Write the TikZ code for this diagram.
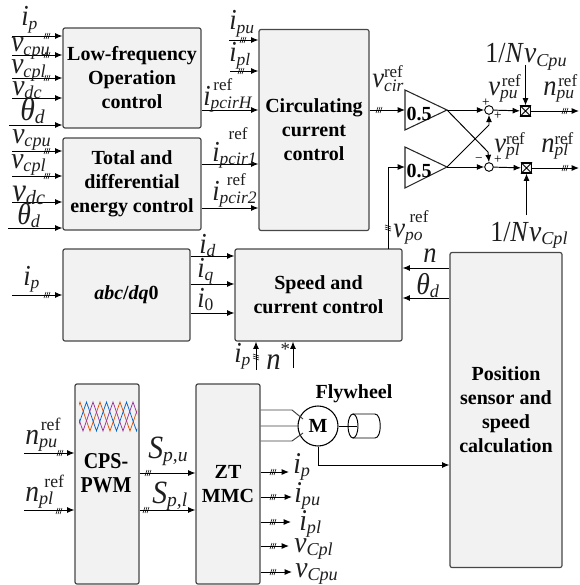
\documentclass[tikz,border=0pt]{standalone}
\usepackage{fontspec}
\setmainfont{Liberation Serif}
\usetikzlibrary{arrows.meta,calc}
\newcommand{\bs}[1]{\scalebox{1.06}[1.16]{\textit{#1}}}
\newcommand{\lb}[4][.34em]{\bs{#2}\rlap{\raisebox{-.13em}{\scalebox{.7}{\textit{#3}}}}\rlap{\raisebox{#1}{\scalebox{.68}{\upshape #4}}}\phantom{\scalebox{.7}{\textit{#3}}}}
\newcommand{\lab}[5]{\node[lbl,font=\fontsize{\fpeval{#4*0.75}}{#4}\selectfont] (#1) at (#2,#3) {#5};}
\tikzset{
 x=.75pt,y=-.75pt,
 box/.style n args={2}{draw=black!72,fill=black!5,line width=.9pt,rounded corners=1.5pt,minimum width=#1*.75pt,minimum height=#2*.75pt,inner sep=0pt,align=center,font=\fontsize{15}{18}\selectfont\bfseries},
 lbl/.style={anchor=base west,inner sep=0pt,text=black!88},
 arr/.style={line width=.72pt,-{Latex[length=5.5pt,width=4.5pt]}},
 sline/.style={line width=.72pt},
 tick3/.pic={\draw[line width=.42pt,black] (-3,3)--(-1,-3) (-1,3)--(1,-3) (1,3)--(3,-3);},
 tri/.style={draw=black!85,line width=.8pt,fill=white},
 sumc/.style={circle,draw=black,line width=.7pt,fill=white,minimum size=6.5pt,inner sep=0pt},
 mult/.style={draw=black,line width=.8pt,fill=black!5,minimum size=7.5pt,inner sep=0pt},
 motor/.style={circle,draw=black,line width=.8pt,fill=white,minimum size=30pt,inner sep=0pt,font=\fontsize{15}{18}\selectfont\bfseries},
 txt/.style={inner sep=0pt,font=\fontsize{15}{18}\selectfont\bfseries},
 pm/.style={inner sep=0pt,font=\fontsize{10}{10}\selectfont},
}
\begin{document}
\begin{tikzpicture}
\useasboundingbox (0,0) rectangle (579,585);
% boxes
\node[box={138}{100}] (lf) at (132,78) {Low-frequency\\Operation\\control};
\node[box={138}{92}] (te) at (132,184) {Total and\\differential\\energy control};
\node[box={110}{201}] (cc) at (314,130) {Circulating\\current\\control};
\node[box={127}{92}] (ab) at (126.5,295) {\textit{abc}/\textit{dq}0};
\node[box={167}{92}] (sc) at (318.5,295) {Speed and\\current control};
\node[box={112}{315}] (ps) at (506,410) {Position\\sensor and\\speed\\calculation};
\node[box={64}{200}] (cp) at (107,484) {};
\node[box={64}{200}] (zt) at (228,484) {ZT\\MMC};
\node[txt] (cptxt) at (106,461) {\scalebox{.88}[1]{\fontsize{17}{24}\selectfont CPS-}};
\node[txt] (cptxt2) at (106,485) {\scalebox{.88}[1]{\fontsize{17}{24}\selectfont PWM}};
% carrier waves
\begin{scope}
\clip (79,400) rectangle (137,433);
\foreach \cl/\ofs in {orange!70!red!90!black/0,blue!50!cyan!80!black/6.5,violet!80/13}{
 \draw[\cl,line width=.55pt] (60+\ofs,402) -- ++(10,29) -- ++(10,-29) -- ++(10,29) -- ++(10,-29) -- ++(10,29) -- ++(10,-29) -- ++(10,29) -- ++(10,-29);
}
\end{scope}
% left inputs
\foreach \n/\xx/\yy in {a1/12/36,a2/12/55,a3/12/78,a4/12/98,a5/9/125,b1/12/151,b2/12/176,b3/12/202,b4/8/228}{
 \coordinate (\n) at (\xx,\yy);
}
\foreach \n in {a1,a2,a3,a4,a5}{\draw[arr] (\n) -- (\n -| lf.west);}
\foreach \n in {b1,b2,b3,b4}{\draw[arr] (\n) -- (\n -| te.west);}
\foreach \yy in {36,55,78,151,176}{\pic at (47,\yy) {tick3};}
\lab{tipa}{21}{26}{25}{\lb{i}{p}{}}
\lab{tva}{11}{52}{26}{\lb{v}{cpu}{}}
\lab{tvb}{11}{74}{26}{\lb{v}{cpl}{}}
\lab{tvc}{12}{95}{26}{\lb{v}{dc}{}}
\lab{tth}{20}{120}{28}{\lb{θ}{d}{}}
\lab{tvd}{12}{143}{26}{\lb{v}{cpu}{}}
\lab{tve}{11}{168}{26}{\lb{v}{cpl}{}}
\lab{tvf}{12}{201}{29}{\lb{v}{dc}{}}
\lab{ttg}{17}{224}{26}{\lb{θ}{d}{}}
% circulating inputs
\coordinate (c1) at (229,40); \coordinate (c2) at (230,71);
\draw[arr] (c1) -- (c1 -| cc.west);
\draw[arr] (c2) -- (c2 -| cc.west);
\pic at (243,40) {tick3}; \pic at (241,71) {tick3};
\coordinate (l1) at (lf.east |- 0,110);
\coordinate (l2) at (te.east |- 0,164);
\coordinate (l3) at (te.east |- 0,208);
\draw[arr] (l1) -- (l1 -| cc.west);
\draw[arr] (l2) -- (l2 -| cc.west);
\draw[arr] (l3) -- (l3 -| cc.west);
\lab{tipu}{229}{30}{25}{\lb{i}{pu}{}}
\lab{tipl}{229}{62}{25}{\lb{i}{pl}{}}
\lab{tcH}{203}{105}{25}{\lb[11pt]{i}{pcirH}{\hspace{3pt}ref}}
\lab{tc1}{212}{161}{25}{\lb[16pt]{i}{pcir1}{\hspace{10pt}ref}}
\lab{tc2}{212}{200}{25}{\lb[11pt]{i}{pcir2}{\hspace{8pt}ref}}
% gains
\draw[tri] (405,90) -- (447,110) -- (405,130) -- cycle;
\draw[tri] (405,147) -- (447,167) -- (405,188) -- cycle;
\coordinate (g1) at (447,110); \coordinate (g2) at (447,167);
\coordinate (g1i) at (405,110); \coordinate (g2i) at (405,167);
\node[txt] (g1t) at (419,114) {0.5};
\node[txt] (g2t) at (419,171) {0.5};
\node[sumc] (s1) at (489,110) {};
\node[sumc] (s2) at (489,167) {};
\node[mult] (m1) at (525.5,111) {};
\node[mult] (m2) at (526.5,168) {};
\draw[line width=.6pt] (m1.north west)--(m1.south east) (m1.north east)--(m1.south west);
\draw[line width=.6pt] (m2.north west)--(m2.south east) (m2.north east)--(m2.south west);
\draw[arr] (cc.east |- g1i) -- (g1i);
\pic at (379,110) {tick3};
\draw[arr] (g1) -- (s1);
\draw[arr] (g2) -- (s2);
\draw[arr] (g1) -- (488,152) -- (s2.north);
\draw[arr] (g2) -- (489,125) -- (s1.south);
\draw[arr] (s1) -- (m1);
\draw[arr] (s2) -- (m2);
\coordinate (o1) at (579,111); \coordinate (o2) at (579,168);
\draw[arr] (m1) -- (o1); \draw[arr] (m2) -- (o2);
\pic at (565,111) {tick3}; \pic at (565,168) {tick3};
\coordinate (nv1) at (525.5,65); \coordinate (nv2) at (526.5,215);
\draw[arr] (nv1) -- (m1); \draw[arr] (nv2) -- (m2);
\node[pm] (p1) at (486,103) {+};
\node[pm] (p2) at (498,116) {+};
\node[pm] (p3) at (479,160) {−};
\node[pm] (p4) at (498,160) {+};
\lab{tvcir}{372}{88}{25}{\lb[8pt]{v}{cir}{ref}}
\lab{tnv1}{485}{63}{26}{\scalebox{1}[1.12]{1/\textit{N}}\lb{v}{Cpu}{}}
\lab{tnv2}{490}{241}{26}{\scalebox{1}[1.12]{1/\textit{N}}\lb{v}{Cpl}{}}
\lab{tvpu}{488}{95}{25}{\lb[6pt]{v}{pu}{\hspace{2pt}ref}}
\lab{tvpl}{494}{152}{25}{\lb[6pt]{v}{pl}{ref}}
\lab{tnpu}{543}{95}{25}{\lb[6pt]{n}{pu}{\hspace{2pt}ref}}
\lab{tnpl}{541}{152}{25}{\lb[6pt]{n}{pl}{ref}}
\lab{tvpo}{393}{237}{25}{\lb[11pt]{v}{po}{\hspace{5pt}ref}}
% vpo
\draw[arr] (388,249) -- (388,167) -- (g2i);
\pic[rotate=90] at (388,228) {tick3};
% speed
\coordinate (pn) at (ps.west |- 0,268); \coordinate (pt) at (ps.west |- 0,298);
\draw[arr] (pn) -- (pn -| sc.east);
\draw[arr] (pt) -- (pt -| sc.east);
\lab{tn}{423}{262}{25}{\bs{n}}
\lab{tth2}{416}{294}{26}{\lb{θ}{d}{}}
% abc
\coordinate (abi) at (12,295);
\draw[arr] (abi) -- (ab.west);
\pic at (47,295) {tick3};
\lab{tipb}{23}{285}{25}{\lb{i}{p}{}}
\coordinate (d1) at (ab.east |- 0,256); \coordinate (d2) at (ab.east |- 0,284); \coordinate (d3) at (ab.east |- 0,313);
\draw[arr] (d1) -- (d1 -| sc.west);
\draw[arr] (d2) -- (d2 -| sc.west);
\draw[arr] (d3) -- (d3 -| sc.west);
\lab{tid}{199}{253}{25}{\lb{i}{d}{}}
\lab{tiq}{197}{277}{25}{\lb{i}{q}{}}
\lab{ti0}{197}{307}{25}{\bs{i}\rlap{\raisebox{-.13em}{\scalebox{.7}{0}}}\phantom{\scalebox{.7}{0}}}
% speed bottom
\coordinate (b1i) at (256,370); \coordinate (b2i) at (293,368);
\draw[arr] (b1i) -- (b1i |- sc.south);
\draw[arr] (b2i) -- (b2i |- sc.south);
\pic[rotate=90] at (256,357) {tick3};
\lab{tipc}{234}{362}{25}{\lb{i}{p}{}}
\lab{tns}{266}{369}{27}{\bs{n}\raisebox{.5em}{\scalebox{.7}{*}}}
% cps
\coordinate (ci1) at (24,453); \coordinate (ci2) at (24,510);
\draw[arr] (ci1) -- (ci1 -| cp.west);
\draw[arr] (ci2) -- (ci2 -| cp.west);
\pic at (60,453) {tick3}; \pic at (59,511) {tick3};
\lab{tnpa}{25}{444}{26}{\lb[10pt]{n}{pu}{\hspace{2pt}ref}}
\lab{tnpb}{25}{501}{26}{\lb[10pt]{n}{pl}{\hspace{6pt}ref}}
\coordinate (cs1) at (cp.east |- 0,473); \coordinate (cs2) at (cp.east |- 0,510);
\draw[arr] (cs1) -- (cs1 -| zt.west);
\draw[arr] (cs2) -- (cs2 -| zt.west);
\pic at (148,473) {tick3}; \pic at (146,510) {tick3};
\lab{tS1}{148}{458}{28}{\bs{S}\rlap{\raisebox{-.13em}{\scalebox{.7}{\textit{p,u}}}}\phantom{\scalebox{.7}{\textit{p,u}}}}
\lab{tS2}{152}{503}{28}{\bs{S}\rlap{\raisebox{-.13em}{\scalebox{.7}{\textit{p,l}}}}\phantom{\scalebox{.7}{\textit{p,l}}}}
% outputs
\foreach \n/\yy/\xe in {z1/472/289,z2/497/292,z3/522/291,z4/546/289,z5/572/292}{
 \coordinate (\n) at (zt.east |- 0,\yy);
 \draw[arr] (\n) -- (\xe,\yy);
 \pic at (273,\yy) {tick3};
}
\lab{tz1}{293}{473}{26}{\lb{i}{p}{}}
\lab{tz2}{294}{502}{26}{\lb{i}{pu}{}}
\lab{tz3}{299}{530}{26}{\lb{i}{pl}{}}
\lab{tz4}{294}{552}{26}{\lb{v}{Cpl}{}}
\lab{tz5}{295}{577}{26}{\lb{v}{Cpu}{}}
% motor
\node[motor] (mo) at (318,426) {M};
\node[txt] (fw) at (354,394) {Flywheel};
\coordinate (w1) at (zt.east |- 0,410); \coordinate (w2) at (zt.east |- 0,426); \coordinate (w3) at (zt.east |- 0,441);
\draw[sline,black!75] (w1) -- (292,410) -- (303,419) (w2) -- (mo.west) (w3) -- (292,441) -- (303,433);
\coordinate (cy) at (353,426);
\draw[sline] (mo.east) -- (357,426);
\draw[sline] (353,414) -- (375,414) .. controls (382,414) and (382,438) .. (375,438) -- (353,438);
\draw[sline] (cy) ellipse[x radius=5,y radius=12];
\coordinate (sen) at (318,465);
\draw[arr] (mo.south) -- (sen) -- (sen -| ps.west);
\end{tikzpicture}
\end{document}
